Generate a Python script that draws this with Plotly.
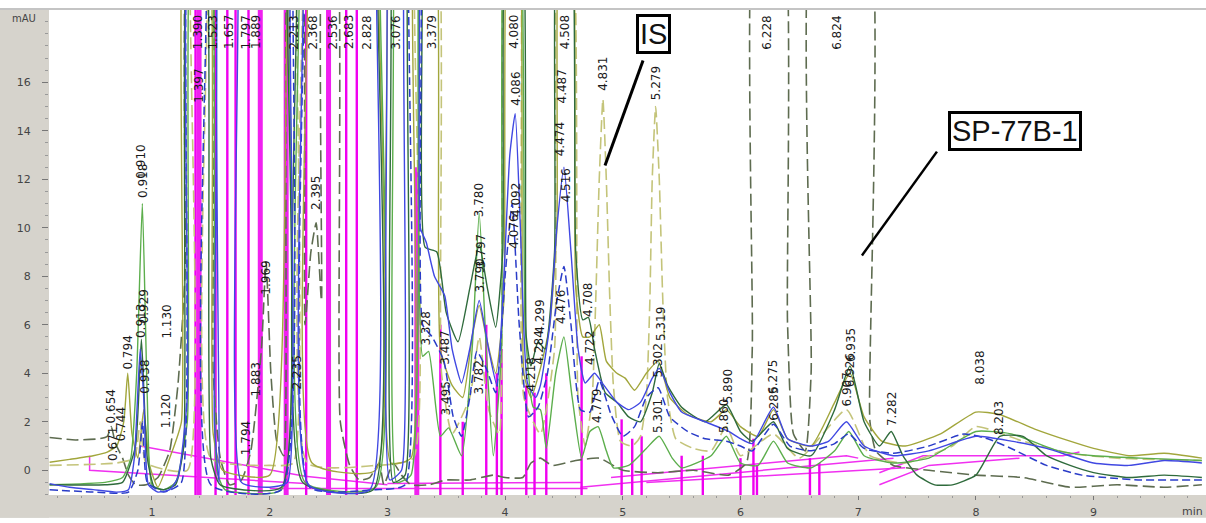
import plotly.graph_objects as go

OFF = 24.0  # peaks that run off the top of the mAU scale

# ---- chromatogram runs: (retention time [min], absorbance [mAU]) ----
SP77B1_RUN = [
    (0.13, 1.35), (0.35, 1.25), (0.55, 1.3), (0.62, 1.4), (0.654, 1.8), (0.69, 1.1), (0.75, 0.5),
    (0.80, -0.2), (0.86, -0.6), (0.95, -0.6), (1.05, -0.3), (1.15, 0.8), (1.22, 3.5), (1.28, 8.0),
    (1.33, OFF), (1.47, OFF), (1.52, 4.0), (1.58, 0.5), (1.66, -0.6), (1.76, -0.4), (1.84, 0.8),
    (1.93, 5.0), (1.969, 8.6), (2.01, 4.0), (2.06, 1.2), (2.12, 0.6), (2.18, OFF), (2.25, OFF),
    (2.30, 6.0), (2.35, 9.0), (2.395, 10.2), (2.44, 7.0), (2.47, OFF), (2.55, OFF), (2.60, 2.0),
    (2.68, 0.2), (2.76, -0.4), (2.85, -0.3), (2.93, 0.3), (2.97, -0.6), (3.05, 0.3), (3.12, -0.2),
    (3.20, -0.6), (3.35, -0.6), (3.50, -0.4), (3.70, -0.4), (3.90, -0.2), (4.00, -0.3), (4.15, -0.3),
    (4.22, 0.3), (4.30, 0.5), (4.40, 0.2), (4.60, 0.4), (4.80, 0.5), (5.00, 0.0), (5.30, -0.1),
    (5.60, 0.0), (5.90, -0.2), (6.05, 0.3), (6.10, 5.0), (6.14, OFF), (6.34, OFF), (6.40, 6.0),
    (6.45, 1.5), (6.55, 0.8), (6.60, 4.0), (6.64, OFF), (7.06, OFF), (7.10, 2.0), (7.15, 0.8),
    (7.30, 0.2), (7.60, 0.0), (8.00, -0.2), (8.40, -0.3), (8.80, -0.7), (9.20, -0.6), (9.60, -0.7),
    (9.92, -0.6),
]

IS_RUN = [
    (0.13, 0.2), (0.70, 0.3), (0.85, 0.5), (0.90, 2.0), (0.95, 0.3), (1.30, 0.0), (1.35, OFF),
    (1.45, OFF), (1.50, 0.5), (2.00, 0.2), (2.20, 0.3), (2.24, OFF), (2.28, OFF), (2.32, 0.3),
    (2.90, 0.2), (3.22, 0.5), (3.26, OFF), (3.40, OFF), (3.46, 4.0), (3.55, 1.5), (3.70, 3.0),
    (3.78, 5.5), (3.86, 2.5), (3.95, 1.5), (4.02, OFF), (4.10, OFF), (4.16, 3.0), (4.30, 1.5),
    (4.42, 5.0), (4.47, OFF), (4.55, OFF), (4.62, 3.0), (4.68, 1.0), (4.74, 3.0), (4.77, 7.0),
    (4.80, 12.0), (4.831, 15.3), (4.86, 12.0), (4.89, 7.0), (4.92, 3.5), (4.98, 1.2), (5.08, 1.0),
    (5.15, 1.4), (5.20, 3.0), (5.23, 7.0), (5.25, 12.0), (5.279, 15.0), (5.31, 12.0), (5.34, 7.0),
    (5.38, 3.0), (5.45, 1.3), (5.60, 0.9), (5.75, 0.8), (5.88, 1.8), (6.00, 0.6), (6.28, 1.5),
    (6.50, 0.5), (6.90, 2.5), (7.10, 0.6), (7.40, 0.3), (7.80, 1.0), (8.00, 1.8), (8.40, 1.2),
    (8.80, 0.7), (9.20, 0.5), (9.92, 0.4),
]

BLUE_RUN = [
    (0.13, -0.55), (0.30, -0.7), (0.50, -0.8), (0.70, -0.9), (0.80, -0.8), (0.85, 0.5), (0.90, 5.0),
    (0.93, 3.0), (0.97, -0.6), (1.05, -0.9), (1.15, -0.8), (1.22, -0.3), (1.30, 3.0), (1.34, OFF),
    (1.49, OFF), (1.53, 2.0), (1.57, -0.5), (1.60, OFF), (1.70, OFF), (1.76, -0.5), (2.00, -0.7),
    (2.15, -0.5), (2.20, OFF), (2.27, OFF), (2.33, -0.6), (2.85, -0.8), (2.92, OFF), (2.97, OFF),
    (3.02, -0.4), (3.12, 0.0), (3.17, OFF), (3.24, OFF), (3.28, 10.0), (3.33, 9.4), (3.40, 8.0),
    (3.487, 7.2), (3.55, 5.0), (3.63, 3.6), (3.70, 5.0), (3.78, 7.0), (3.86, 5.0), (3.93, 3.5),
    (3.99, 8.0), (4.04, 13.0), (4.086, 14.7), (4.13, 10.0), (4.19, 3.6), (4.26, 3.0), (4.30, 3.5),
    (4.38, 6.0), (4.44, 10.0), (4.50, 12.5), (4.56, 9.0), (4.62, 5.0), (4.68, 3.6), (4.76, 4.0),
    (4.84, 3.5), (4.95, 2.8), (5.05, 2.5), (5.15, 2.8), (5.25, 3.8), (5.31, 4.2), (5.40, 3.2),
    (5.50, 2.4), (5.70, 2.0), (5.90, 1.6), (6.00, 1.3), (6.10, 1.1), (6.28, 2.6), (6.40, 1.3),
    (6.60, 1.0), (6.75, 1.2), (6.90, 2.0), (7.05, 1.0), (7.30, 0.6), (7.60, 0.8), (8.00, 1.4),
    (8.30, 1.2), (8.60, 0.9), (9.00, 0.3), (9.30, 0.2), (9.60, 0.4), (9.92, 0.3),
]

BLUE_DASH_RUN = [
    (0.13, -0.8), (0.50, -0.9), (0.80, -0.9), (0.88, 0.0), (0.92, 2.0), (0.96, -0.5), (1.10, -0.9),
    (1.25, -0.5), (1.33, OFF), (1.44, OFF), (1.50, -0.6), (2.10, -0.8), (2.22, OFF), (2.28, OFF),
    (2.34, -0.7), (2.90, -0.8), (3.15, -0.6), (3.20, OFF), (3.26, OFF), (3.30, 6.0), (3.38, 5.5),
    (3.48, 4.5), (3.56, 2.2), (3.63, 1.4), (3.70, 3.0), (3.76, 4.9), (3.84, 4.2), (3.92, 3.2),
    (4.00, 8.0), (4.06, 11.0), (4.12, 6.0), (4.20, 2.2), (4.28, 2.6), (4.36, 4.0), (4.44, 7.0),
    (4.50, 8.4), (4.56, 6.0), (4.64, 2.5), (4.72, 2.4), (4.80, 3.7), (4.90, 2.3), (5.00, 1.4),
    (5.10, 1.8), (5.20, 3.0), (5.30, 3.4), (5.40, 2.2), (5.55, 1.6), (5.70, 1.3), (5.88, 1.2),
    (6.00, 1.0), (6.10, 0.8), (6.28, 1.9), (6.42, 1.0), (6.60, 0.8), (6.80, 1.1), (6.92, 1.5),
    (7.05, 0.9), (7.30, 0.7), (7.60, 1.0), (7.90, 1.5), (8.10, 1.3), (8.30, 0.9), (8.60, 0.2),
    (8.90, -0.2), (9.10, -0.3), (9.40, -0.4), (9.92, -0.4),
]

GREEN_RUN = [
    (0.13, -0.6), (0.60, -0.5), (0.75, -0.3), (0.82, 0.5), (0.87, 4.0), (0.918, 11.0), (0.96, 3.0),
    (1.00, -0.6), (1.10, -0.8), (1.20, -0.5), (1.30, 2.0), (1.36, OFF), (1.47, OFF), (1.55, 0.0),
    (1.62, -0.8), (2.10, -0.8), (2.18, OFF), (2.24, OFF), (2.30, -0.5), (2.90, -0.7), (2.95, OFF),
    (3.02, OFF), (3.08, -0.5), (3.20, -0.2), (3.26, OFF), (3.30, 4.7), (3.35, 4.9), (3.45, 1.4),
    (3.52, 1.75), (3.63, 0.6), (3.72, 5.0), (3.78, 10.6), (3.84, 5.0), (3.90, 0.6), (3.97, 5.0),
    (4.02, OFF), (4.10, OFF), (4.17, 6.0), (4.24, 2.6), (4.30, 2.5), (4.35, 0.9), (4.43, 4.0),
    (4.50, 5.5), (4.57, 3.0), (4.65, 0.5), (4.72, 1.6), (4.79, 1.8), (4.86, 0.8), (4.92, 0.1),
    (5.05, 0.2), (5.20, 0.9), (5.31, 1.4), (5.42, 0.5), (5.50, 0.1), (5.75, 0.6), (5.88, 1.4),
    (6.00, 0.3), (6.15, 0.2), (6.28, 1.2), (6.40, 0.3), (6.60, 0.1), (6.80, 0.8), (6.92, 1.6),
    (7.05, 0.6), (7.30, 0.3), (7.60, 0.5), (8.00, 1.6), (8.30, 1.5), (8.70, 0.8), (9.00, 0.6),
    (9.40, 0.5), (9.92, 0.4),
]

DARK_GREEN_RUN = [
    (0.13, -0.6), (0.60, -0.6), (0.75, -0.5), (0.86, 1.0), (0.91, 5.4), (0.96, 0.5), (1.02, -0.7),
    (1.10, -0.8), (1.20, -0.6), (1.27, 1.0), (1.33, OFF), (1.43, OFF), (1.50, 0.5), (1.58, -0.6),
    (2.10, -0.7), (2.16, OFF), (2.22, OFF), (2.28, -0.5), (2.88, -0.8), (2.93, OFF), (3.00, OFF),
    (3.05, -0.5), (3.15, -0.2), (3.20, OFF), (3.27, OFF), (3.32, 9.2), (3.42, 9.0), (3.50, 6.5),
    (3.60, 5.3), (3.70, 7.5), (3.78, 9.3), (3.85, 7.5), (3.92, 5.9), (3.98, 9.0), (4.03, OFF),
    (4.12, OFF), (4.18, 5.5), (4.22, 4.3), (4.28, 5.3), (4.34, 5.0), (4.42, 9.0), (4.46, OFF),
    (4.54, OFF), (4.60, 9.0), (4.66, 6.2), (4.708, 6.3), (4.76, 5.0), (4.85, 3.2), (4.95, 2.8),
    (5.05, 2.2), (5.15, 2.0), (5.25, 3.2), (5.31, 4.4), (5.38, 3.5), (5.50, 2.6), (5.70, 2.0),
    (5.88, 2.7), (6.00, 1.6), (6.10, 1.2), (6.28, 2.0), (6.40, 0.9), (6.60, 0.6), (6.80, 2.5),
    (6.93, 4.3), (7.05, 2.0), (7.18, 1.0), (7.28, 1.6), (7.38, 0.6), (7.50, -0.2), (7.65, -0.6),
    (7.80, -0.6), (8.00, -0.2), (8.203, 1.4), (8.40, 1.4), (8.60, 0.6), (8.80, 0.2), (9.00, -0.1),
    (9.30, -0.3), (9.60, -0.2), (9.92, -0.3),
]

OLIVE_RUN = [
    (0.13, 0.33), (0.30, 0.45), (0.50, 0.6), (0.62, 0.75), (0.70, 1.0), (0.76, 2.0), (0.794, 4.0),
    (0.83, 1.5), (0.88, 0.5), (0.93, 2.5), (0.98, 0.2), (1.05, -0.7), (1.15, 0.5), (1.25, 2.0),
    (1.30, OFF), (1.45, OFF), (1.52, 1.5), (1.60, 0.0), (2.00, -0.2), (2.20, OFF), (2.30, OFF),
    (2.36, 0.3), (2.90, 0.0), (2.93, OFF), (2.98, OFF), (3.03, 0.3), (3.20, 0.5), (3.25, OFF),
    (3.38, OFF), (3.45, 5.0), (3.55, 3.5), (3.64, 3.0), (3.72, 5.5), (3.78, 6.8), (3.84, 5.5),
    (3.92, 4.0), (3.99, 7.0), (4.04, OFF), (4.10, OFF), (4.16, 4.0), (4.22, 3.0), (4.30, 4.2),
    (4.38, 6.0), (4.44, 10.0), (4.48, OFF), (4.55, OFF), (4.60, 7.5), (4.66, 5.5), (4.72, 5.5),
    (4.80, 6.0), (4.86, 4.5), (4.95, 4.0), (5.02, 3.8), (5.10, 3.3), (5.20, 4.0), (5.30, 4.5),
    (5.40, 3.0), (5.55, 2.3), (5.75, 2.0), (5.88, 2.5), (6.00, 1.8), (6.15, 1.4), (6.28, 2.5),
    (6.40, 1.3), (6.60, 1.0), (6.80, 2.8), (6.93, 4.0), (7.05, 2.2), (7.20, 1.2), (7.40, 1.0),
    (7.70, 1.5), (8.00, 2.4), (8.20, 2.3), (8.50, 1.7), (8.80, 1.2), (9.00, 0.9), (9.30, 0.6),
    (9.60, 0.7), (9.92, 0.5),
]

# ---- integration markers (magenta) ----
MAGENTA_THICK_T = [1.40, 1.92, 2.14, 2.50, 3.25]
MAGENTA_THICK_TOP = [OFF, OFF, OFF, OFF, 12.5]
MAGENTA_THIN_T = [1.37, 1.54, 1.64, 1.71, 1.82, 2.31, 2.65, 2.74,
                  3.45, 3.64, 3.84, 3.93, 3.97, 4.18, 4.25, 4.35, 4.65,
                  4.99, 5.08, 5.16, 5.50, 5.68, 6.00, 6.11, 6.14, 6.59, 6.67]
MAGENTA_THIN_TOP = [OFF, OFF, OFF, OFF, OFF, OFF, OFF, OFF,
                    6.0, 2.0, 6.0, 4.0, 5.0, 3.5, 3.2, 4.0, 4.7,
                    2.1, 1.3, 1.4, 0.6, 0.6, 0.5, 1.3, 0.2, 0.5, 0.3]
BASELINE_T = [0.47, 0.47, 2.30, None, 0.90, 2.30, 3.00, None, 2.00, 4.70, None,
              3.00, 4.65, None, 4.64, 7.30, None, 4.90, 6.90, 7.00, None,
              5.20, 7.40, None, 7.18, 7.55, 8.74, 8.88, None, 7.18, 7.60, 8.37]
BASELINE_V = [0.6, 0.0, -0.55, None, 1.0, -0.25, -0.6, None, -0.75, -0.75, None,
              -0.55, -0.5, None, -0.7, 0.5, None, -0.3, 0.6, 0.5, None,
              -0.5, 0.1, None, -0.1, 0.6, 0.6, 0.75, None, -0.6, 0.2, 0.5]

# ---- retention-time labels: text, time, absorbance at label foot ----
PEAK_LABEL_TEXT = ["0.654", "0.671", "0.744", "0.794", "0.910", "0.918", "0.913", "0.929", "0.938",
                   "1.120", "1.130", "1.794", "1.883", "1.969", "2.235", "2.395",
                   "3.328", "3.487", "3.495", "3.782", "3.780", "3.790", "3.797",
                   "4.086", "4.076", "4.092", "4.218", "4.284", "4.299",
                   "4.476", "4.487", "4.474", "4.516", "4.708", "4.722", "4.779",
                   "4.831", "5.279", "5.319", "5.302", "5.301", "5.860", "5.890",
                   "6.285", "6.275", "6.907", "6.926", "6.935", "7.282", "8.038", "8.203"]
PEAK_LABEL_T = [0.654, 0.671, 0.744, 0.794, 0.910, 0.918, 0.913, 0.929, 0.938,
                1.120, 1.130, 1.794, 1.883, 1.969, 2.235, 2.395,
                3.328, 3.487, 3.495, 3.782, 3.780, 3.790, 3.797,
                4.086, 4.076, 4.092, 4.218, 4.284, 4.299,
                4.476, 4.487, 4.474, 4.516, 4.708, 4.722, 4.779,
                4.831, 5.279, 5.319, 5.302, 5.301, 5.860, 5.890,
                6.285, 6.275, 6.907, 6.926, 6.935, 7.282, 8.038, 8.203]
PEAK_LABEL_V = [1.9, 0.35, 1.15, 4.1, 12.0, 11.2, 5.4, 6.0, 3.1,
                1.7, 5.4, 0.6, 3.0, 7.2, 3.3, 10.7,
                5.1, 4.3, 2.2, 3.1, 10.4, 7.3, 8.3,
                15.0, 9.1, 10.4, 3.2, 4.3, 5.6,
                6.0, 15.1, 12.9, 11.0, 6.3, 4.3, 1.9,
                15.6, 15.2, 5.3, 3.8, 1.5, 1.5, 2.7,
                2.0, 3.1, 2.6, 3.4, 4.4, 1.8, 3.5, 1.4]

# labels of peaks that leave the scale, hung from the top edge
TOP_LABEL_TEXT = ["1.390", "1.397", "1.523", "1.657", "1.797", "1.889", "2.213", "2.368", "2.536",
                  "2.683", "2.828", "3.076", "3.379", "4.080", "4.508", "6.228", "6.824"]
TOP_LABEL_T = [1.39, 1.40, 1.52, 1.66, 1.80, 1.89, 2.21, 2.37, 2.54,
               2.68, 2.83, 3.076, 3.379, 4.080, 4.508, 6.228, 6.824]
TOP_LABEL_V = [18.8, 16.6, 18.8, 18.8, 18.8, 18.8, 18.8, 18.8, 18.8,
               18.8, 18.8, 18.8, 18.8, 18.8, 18.8, 18.8, 18.8]

X_TICKS = [1, 2, 3, 4, 5, 6, 7, 8, 9]
Y_TICKS = [0, 2, 4, 6, 8, 10, 12, 14, 16]

X_RANGE = [0.125, 9.921]
Y_RANGE = [-1.02, 18.98]

RUNS = [
    (SP77B1_RUN, "#5e6c50", "12px,5px", 1.6),
    (IS_RUN, "#c4c47a", "12px,5px", 1.6),
    (OLIVE_RUN, "#a2a63c", "solid", 1.4),
    (GREEN_RUN, "#5cae4c", "solid", 1.4),
    (DARK_GREEN_RUN, "#2f6b3c", "solid", 1.4),
    (BLUE_DASH_RUN, "#2a3cc8", "8px,4px", 1.5),
    (BLUE_RUN, "#4048e2", "solid", 1.4),
]

fig = go.Figure()


def segments(times, tops, bottom):
    xs, ys = [], []
    for t, top in zip(times, tops):
        xs += [t, t, None]
        ys += [bottom, top, None]
    return xs, ys


# integration baselines and drop lines
fig.add_trace(go.Scatter(x=BASELINE_T, y=BASELINE_V, mode="lines",
                         line=dict(color="#f030f0", width=1.5), hoverinfo="skip"))
mx, my = segments(MAGENTA_THIN_T, MAGENTA_THIN_TOP, Y_RANGE[0] - 0.2)
fig.add_trace(go.Scatter(x=mx, y=my, mode="lines",
                         line=dict(color="#f000f0", width=2.4), hoverinfo="skip"))
mx, my = segments(MAGENTA_THICK_T, MAGENTA_THICK_TOP, Y_RANGE[0] - 0.2)
fig.add_trace(go.Scatter(x=mx, y=my, mode="lines",
                         line=dict(color="#f020f0", width=5), hoverinfo="skip"))

for run, color, dash, width in RUNS:
    t, v = zip(*run)
    fig.add_trace(go.Scatter(x=list(t), y=list(v), mode="lines",
                             line=dict(color=color, dash=dash, width=width,
                                       shape="spline", smoothing=0.5),
                             hoverinfo="skip"))

label_font = dict(family="DejaVu Sans", size=12, color="#1a1a1a")
annotations = []
for txt, t, v in zip(PEAK_LABEL_TEXT, PEAK_LABEL_T, PEAK_LABEL_V):
    annotations.append(dict(x=t, y=v, xref="x", yref="y", text=txt, showarrow=False,
                            textangle=-90, xanchor="center", yanchor="bottom",
                            font=label_font, borderpad=0))
for txt, t, v in zip(TOP_LABEL_TEXT, TOP_LABEL_T, TOP_LABEL_V):
    annotations.append(dict(x=t, y=v, xref="x", yref="y", text=txt, showarrow=False,
                            textangle=-90, xanchor="center", yanchor="top",
                            font=label_font, borderpad=0))

# boxed call-outs
box_font = dict(family="Liberation Sans", size=29, color="#111111")
annotations.append(dict(x=5.265, y=18.0, xref="x", yref="y", text="IS", showarrow=False,
                        font=box_font, bgcolor="white", bordercolor="black",
                        borderwidth=3, borderpad=1))
annotations.append(dict(x=8.332, y=13.98, xref="x", yref="y", text="SP-77B-1", showarrow=False,
                        font=box_font, bgcolor="white", bordercolor="black",
                        borderwidth=3, borderpad=1))

PW, PH = 1206 - 49 - 4, 523 - 10 - 23

# axis captions
annotations.append(dict(x=-0.0217, y=0.982, xref="paper", yref="paper", text="mAU",
                        showarrow=False, xanchor="center", yanchor="middle",
                        font=dict(family="DejaVu Sans", size=10, color="#444")))
annotations.append(dict(x=1 + 2 / PW, y=-0.035, xref="paper", yref="paper", text="min",
                        showarrow=False, xanchor="right", yanchor="middle", borderpad=0,
                        font=dict(family="DejaVu Sans", size=11, color="#444")))

grey = "#d6d3cc"
shapes = [
    dict(type="rect", xref="paper", yref="paper", x0=-49 / PW, x1=0, y0=-23 / PH, y1=1,
         fillcolor=grey, line=dict(width=0), layer="below"),
    dict(type="rect", xref="paper", yref="paper", x0=-49 / PW, x1=1 + 4 / PW, y0=-23 / PH, y1=0,
         fillcolor=grey, line=dict(width=0), layer="below"),
    dict(type="line", xref="paper", yref="paper", x0=-49 / PW, x1=1 + 4 / PW, y0=1.002, y1=1.002,
         line=dict(color="#c4c4c4", width=2), layer="below"),
    # leader lines of the call-outs
    dict(type="line", xref="x", yref="y", x0=5.172, y0=16.9, x1=4.849, y1=12.57,
         line=dict(color="black", width=3)),
    dict(type="line", xref="x", yref="y", x0=7.669, y0=13.14, x1=7.032, y1=8.86,
         line=dict(color="black", width=2.5)),
]

fig.update_layout(
    width=1206, height=523,
    margin=dict(l=49, r=4, t=10, b=23, pad=0),
    paper_bgcolor="white", plot_bgcolor="white",
    showlegend=False,
    annotations=annotations,
    shapes=shapes,
    xaxis=dict(range=X_RANGE, tickvals=X_TICKS, ticktext=[str(v) for v in X_TICKS],
               showgrid=False, zeroline=False, showline=False,
               ticks="outside", ticklen=4, tickcolor="#777", tickwidth=1,
               ticklabelstandoff=3,
               tickfont=dict(family="DejaVu Sans", size=11, color="#444"),
               minor=dict(dtick=0.2, ticks="outside", ticklen=2, tickcolor="#999"),
               fixedrange=True),
    yaxis=dict(range=Y_RANGE, tickvals=Y_TICKS, ticktext=[str(v) for v in Y_TICKS],
               showgrid=False, zeroline=False, showline=False,
               ticks="outside", ticklen=6, tickcolor="#777", tickwidth=1,
               ticklabelstandoff=9,
               tickfont=dict(family="DejaVu Sans", size=11, color="#444"),
               minor=dict(dtick=0.5, ticks="outside", ticklen=3, tickcolor="#999"),
               fixedrange=True),
)

fig.write_html("out.html", config={"displayModeBar": False})
